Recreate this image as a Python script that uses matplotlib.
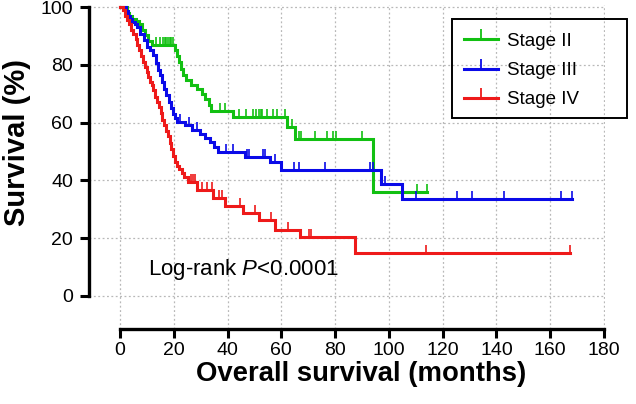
import numpy as np
import matplotlib
matplotlib.use('Agg')
import matplotlib.pyplot as plt
from matplotlib.lines import Line2D
from matplotlib.patches import Rectangle
from matplotlib.markers import TICKUP

plt.rcParams['font.family'] = ['Liberation Sans', 'DejaVu Sans']
plt.rcParams['mathtext.fontset'] = 'custom'
plt.rcParams['mathtext.rm'] = 'Liberation Sans'
plt.rcParams['mathtext.it'] = 'Liberation Sans:italic'

# ---------------- data ----------------
labels = ['Stage II', 'Stage III', 'Stage IV']
colors = ['#12c012', '#0a0ae8', '#ee1a1a']

# Stage II
t2 = [0, 2.5, 3.4, 4.6, 5.8, 7.0, 8.2, 9.4, 10.6, 11.8, 20.3, 21.3, 22.1, 22.8, 23.5,
      24.5, 26.3, 28.5, 30.6, 31.8, 33.0, 34.0, 42.0, 62.2, 65.0, 94.0]
s2 = [100, 98, 97, 96, 95.2, 94, 92, 90.2, 88.2, 87, 85, 83, 81, 78.5, 76.5,
      74.7, 73, 71.8, 70, 68.2, 66, 64, 62, 58.5, 54.3, 36]
c2 = [13.5, 14.9, 16.0, 16.7, 17.3, 17.9, 18.5, 19.1, 19.7, 37.2, 39.0, 44.4, 46.9,
      49.3, 50.5, 51.7, 52.3, 52.9, 54.7, 57.1, 58.3, 61.2, 64.0, 66.7, 67.5, 72.5,
      77.0, 79.4, 80.4, 90.0, 110.3, 114.2]
end2 = 114.2

# Stage III
t3 = [0, 2.2, 3.0, 3.6, 4.6, 5.6, 6.4, 7.6, 8.8, 10.0, 11.2, 12.4, 13.3, 14.1, 14.9,
      15.7, 16.5, 17.3, 18.1, 18.9, 19.7, 20.5, 21.3, 24.2, 26.7, 29.7, 31.5, 33.3,
      35.0, 36.4, 46.5, 55.8, 59.8, 97.0, 105.0]
s3 = [100, 98.5, 97, 96, 94.8, 94, 93, 90.8, 88.5, 86.2, 85, 83.3, 80.5, 78.3, 76.5,
      74, 71.5, 69.5, 67, 65, 63, 61.5, 60.3, 59.2, 57.5, 56.2, 54.6, 53.3,
      51.6, 49.9, 48.2, 46.3, 43.5, 38.9, 33.4]
c3 = [22.4, 25.5, 28.8, 39.4, 42.0, 47.3, 48.0, 53.3, 54.0, 57.5, 64.8, 66.7, 76.4,
      92.9, 94.2, 98.7, 110.2, 125.4, 130.8, 142.9, 164.0, 168.0]
end3 = 168.0

# Stage IV
t4 = [0, 1.0, 1.8, 2.6, 3.4, 4.2, 5.0, 5.8, 6.5, 7.2, 8.0, 8.6, 9.3, 10.0, 10.6,
      11.2, 11.8, 12.4, 13.0, 13.7, 14.4, 15.1, 15.8, 16.5, 17.2, 17.9, 18.5, 19.1,
      19.7, 20.3, 21.2, 22.1, 23.0, 23.9, 25.2, 28.8, 34.5, 39.0, 45.7, 51.8, 57.8,
      67.0, 87.5]
s4 = [100, 98.8, 97, 95.5, 94, 92, 90.5, 89, 87, 85, 83, 81, 79.3, 77.5, 75.8,
      74.2, 72.9, 71.2, 69, 67, 65.3, 63.2, 61, 59, 57, 55.5, 53, 51,
      48.5, 46.5, 45, 43.8, 42.5, 41, 39.5, 36.5, 33.8, 31.2, 28.8, 26.3, 23.0,
      20.3, 15]
c4 = [26.5, 27.3, 28.0, 30.4, 32.2, 34.1, 36.8, 37.8, 44.5, 50.3, 56.0, 62.5, 70.3,
      71.2, 113.8, 167.5]
end4 = 167.5

x_ticks = [0, 20, 40, 60, 80, 100, 120, 140, 160, 180]
y_ticks = [0, 20, 40, 60, 80, 100]

curves = [(t2, s2, c2, end2), (t3, s3, c3, end3), (t4, s4, c4, end4)]

# ---------------- figure ----------------
W, H = 636, 404
fig = plt.figure(figsize=(W / 100, H / 100), dpi=100)
ax = fig.add_axes([0.1399, 0.1859, 0.8118, 0.801])
ax.set_xlim(-11.53, 180.5)
ax.set_ylim(-11.4, 100.6)

ax.set_axisbelow(True)
ax.grid(True, color='#b8b8b8', linestyle=(0, (1.5, 2.0)), linewidth=0.9)

for (t, s, c, end), col, lab in zip(curves, colors, labels):
    tt = np.r_[t, end]
    ss = np.r_[s, s[-1]]
    ax.step(tt, ss, where='post', color=col, lw=2.2, clip_on=False, zorder=3,
            solid_joinstyle='miter')
    idx = np.searchsorted(np.asarray(t), np.asarray(c), side='right') - 1
    cs = np.asarray(s)[idx]
    ax.plot(c, cs, linestyle='none', marker=TICKUP, markersize=5.5,
            markeredgewidth=1.2, color=col, clip_on=False, zorder=3)

for side in ['top', 'right']:
    ax.spines[side].set_visible(False)
ax.spines['left'].set_bounds(0, 100)
ax.spines['bottom'].set_bounds(0, 180)
for side in ['left', 'bottom']:
    ax.spines[side].set_linewidth(2.4)
    ax.spines[side].set_capstyle('projecting')

ax.set_xticks(x_ticks)
ax.set_yticks(y_ticks)
ax.tick_params(axis='both', which='major', length=6.5, width=2.2, labelsize=14,
               colors='black')
ax.tick_params(axis='y', pad=5)
ax.tick_params(axis='x', pad=3)

ax.set_xlabel('Overall survival (months)', fontsize=19.8, fontweight='bold')
ax.xaxis.set_label_coords(0.527, -0.098)
ax.set_ylabel('Survival (%)', fontsize=21, fontweight='bold')
ax.yaxis.set_label_coords(-0.113, 0.575)

ax.text(10.4, 9.3, r'Log-rank $\mathit{P}$<0.0001', fontsize=16, ha='left',
        va='center')

handles = [Line2D([0], [0], color=col, lw=2.2, marker=TICKUP, markersize=7,
                  markeredgewidth=1.3) for col in colors]
fs_leg = 13.5
leg = fig.legend(handles, labels, loc='upper left',
                 bbox_to_anchor=(453.5 / W, 1 - 22.5 / H),
                 bbox_transform=fig.transFigure, fontsize=fs_leg,
                 frameon=False, numpoints=1,
                 handlelength=1.8, handletextpad=0.5, borderpad=0.55,
                 labelspacing=0.64, borderaxespad=0)
fig.add_artist(Rectangle((452 / W, 1 - 118 / H), 175 / W, 99 / H,
                         transform=fig.transFigure, fill=False,
                         edgecolor='black', linewidth=1.4))

fig.savefig('out.png', dpi=100)
